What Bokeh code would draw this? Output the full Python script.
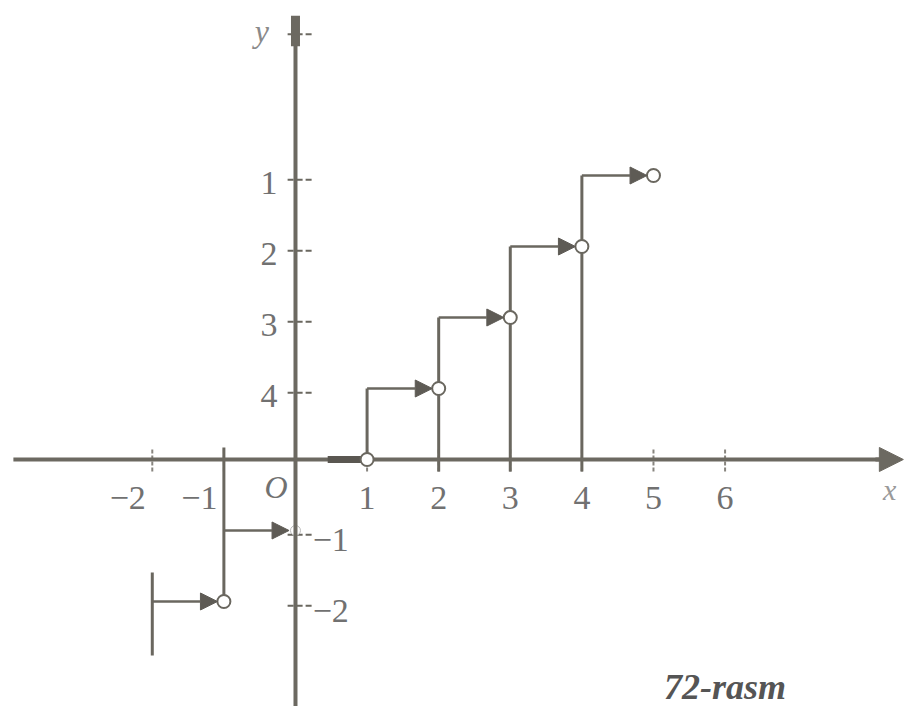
from bokeh.plotting import figure
from bokeh.models import Range1d, Arrow, NormalHead, ColumnDataSource
from bokeh.core.properties import value
from bokeh.embed import file_html
from bokeh.resources import INLINE

# ---- data: y = [x] (integer part), drawn on [-2, 5) ----
step_levels = [-2, -1, 0, 1, 2, 3, 4]          # value on [k, k+1)
open_end_x = [-1, 1, 2, 3, 4, 5]               # open circles (right ends)
open_end_y = [-2, 0, 1, 2, 3, 4]
x_tick_vals = [-2, -1, 1, 2, 3, 4, 5, 6]
x_tick_labels = ["\u22122", "\u22121", "1", "2", "3", "4", "5", "6"]
y_tick_vals = [4, 3, 2, 1, -1, -2]
y_tick_labels = ["1", "2", "3", "4", "\u22121", "\u22122"]
caption = "72-rasm"

AX = "#6c6961"
LN = "#6a675f"
TX = "#717171"
SERIF = "Liberation Serif"
FS = "34px"

p = figure(width=904, height=706, output_backend="svg", toolbar_location=None,
           x_axis_location=None, y_axis_location=None,
           x_range=Range1d(-4.120, 8.506), y_range=Range1d(-3.479, 6.465),
           min_border=0, min_border_left=0, min_border_right=0,
           min_border_top=0, min_border_bottom=0)
p.grid.visible = False
p.outline_line_color = None
p.background_fill_color = "white"
p.border_fill_color = "white"

# x-axis tick marks (crossing the axis)
p.segment(x0=x_tick_vals, y0=[-0.17] * len(x_tick_vals), x1=x_tick_vals,
          y1=[0.17] * len(x_tick_vals), line_color=LN, line_width=2,
          line_dash="4 2", line_alpha=0.8)

# vertical jump lines
jx, jy0, jy1 = [], [], []
for i in range(1, len(step_levels)):
    k = step_levels[i]
    prev = step_levels[i - 1]
    jx.append(k)
    lo = min(prev, 0)
    hi = max(k, 0)
    if lo == 0 and k >= 2:
        lo = -0.17
    if hi == 0:
        hi = 0.17
    jy0.append(lo)
    jy1.append(hi)
p.segment(x0=jx, y0=jy0, x1=jx, y1=jy1, line_color=LN, line_width=3)
# partial jump mark at the left end x = -2
p.segment(x0=[step_levels[0]], y0=[step_levels[0] + 0.41], x1=[step_levels[0]],
          y1=[step_levels[0] - 0.76], line_color=LN, line_width=3)

# y-axis tick marks
p.segment(x0=[-0.11] * len(y_tick_vals), y0=[v - 0.06 for v in y_tick_vals],
          x1=[0.25] * len(y_tick_vals), y1=[v - 0.06 for v in y_tick_vals],
          line_color=LN, line_width=2, line_dash="6 3")

# hidden open point at (0, -1) under the y-axis
p.scatter(x=[0], y=[-1], size=10, marker="circle", fill_color="white",
          line_color="#bbbbbb", line_width=1)

# axes
p.segment(x0=[-3.94], y0=[0], x1=[8.2], y1=[0], line_color=AX, line_width=4)
p.add_layout(Arrow(end=NormalHead(size=24, fill_color=AX, line_color=AX),
                   x_start=8.1, y_start=0, x_end=8.49, y_end=0,
                   line_color=AX, line_width=4))
p.segment(x0=[0], y0=[-3.6], x1=[0], y1=[6.2], line_color=AX, line_width=4)
p.segment(x0=[0], y0=[5.82], x1=[0], y1=[6.25], line_color=AX, line_width=9)
p.segment(x0=[-0.11], y0=[5.99], x1=[0.25], y1=[5.99], line_color=AX,
          line_width=2, line_dash="6 3")

# horizontal pieces with arrow heads
hx0 = [k for k in step_levels if k != 0]
hx1 = [k + 1 - 0.09 for k in step_levels if k != 0]
hy = [k for k in step_levels if k != 0]
arr_src = ColumnDataSource(dict(x0=hx0, y0=hy, x1=hx1, y1=hy))
p.add_layout(Arrow(end=NormalHead(size=17, fill_color="#5e5b55", line_color="#5e5b55"),
                   source=arr_src, x_start="x0", y_start="y0", x_end="x1", y_end="y1",
                   line_color=LN, line_width=2.5))
# the piece on [0, 1) lies on the x-axis: thick dark end
p.segment(x0=[0.45], y0=[0], x1=[0.92], y1=[0], line_color="#5a5751", line_width=7)

# open circles
p.scatter(x=open_end_x, y=open_end_y, size=13, marker="circle", fill_color="white",
          line_color=LN, line_width=2)

# tick labels
pos_x = [v for v in x_tick_vals if v > 0]
pos_lab = [l for v, l in zip(x_tick_vals, x_tick_labels) if v > 0]
neg_x = [v - 0.09 for v in x_tick_vals if v < 0]
neg_lab = [l for v, l in zip(x_tick_vals, x_tick_labels) if v < 0]
p.text(x=pos_x, y=[-0.54] * len(pos_x), text=pos_lab, text_align="center",
       text_baseline="middle", text_font=value(SERIF), text_font_size=FS,
       text_color=TX)
p.text(x=neg_x, y=[-0.54] * len(neg_x), text=neg_lab, text_align="right",
       text_baseline="middle", text_font=value(SERIF), text_font_size=FS,
       text_color=TX)

ypos = [(v, l) for v, l in zip(y_tick_vals, y_tick_labels) if v > 0]
yneg = [(v, l) for v, l in zip(y_tick_vals, y_tick_labels) if v < 0]
p.text(x=[-0.25] * len(ypos), y=[v - 0.1 for v, _ in ypos], text=[l for _, l in ypos],
       text_align="right", text_baseline="middle", text_font=value(SERIF),
       text_font_size=FS, text_color=TX)
p.text(x=[0.24] * len(yneg), y=[v - 0.14 for v, _ in yneg], text=[l for _, l in yneg],
       text_align="left", text_baseline="middle", text_font=value(SERIF),
       text_font_size=FS, text_color=TX)

# axis names and origin
p.text(x=[-0.11], y=[-0.39], text=["O"], text_align="right", text_baseline="middle",
       text_font=value(SERIF), text_font_style="italic", text_font_size="32px",
       text_color=TX)
p.text(x=[-0.47], y=[6.03], text=["y"], text_align="center", text_baseline="middle",
       text_font=value(SERIF), text_font_style="italic", text_font_size="32px",
       text_color="#8a8a8a")
p.text(x=[8.30], y=[-0.42], text=["x"], text_align="center", text_baseline="middle",
       text_font=value(SERIF), text_font_style="italic", text_font_size="30px",
       text_color="#9a9a9a")

# caption
p.text(x=[6.0], y=[-3.2], text=[caption], text_align="center", text_baseline="middle",
       text_font=value(SERIF), text_font_style="bold italic", text_font_size="36px",
       text_color="#555555")

open("out.html", "w").write(file_html(p, INLINE))
